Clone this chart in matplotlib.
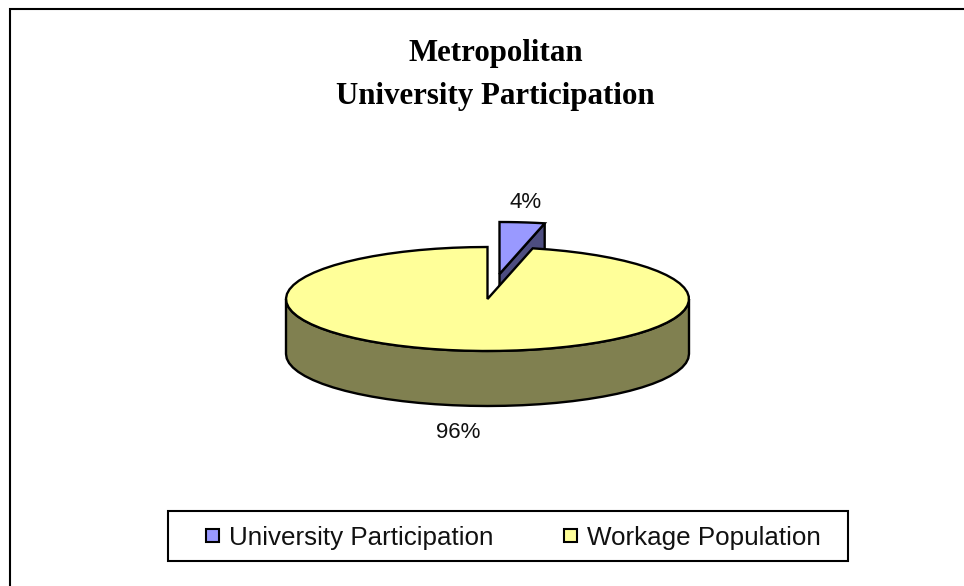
import numpy as np
import matplotlib
matplotlib.use("Agg")
import matplotlib.pyplot as plt
from matplotlib.patches import Polygon, Rectangle

categories = ["University Participation", "Workage Population"]
shares = [3.6, 96.4]
top_colors = ["#9999FF", "#FFFF99"]
side_colors = ["#4D4D80", "#808050"]

# pie geometry in picture pixels
cx, cy = 487.5, 299
rx, ry = 201.5, 52
depth = 55
explode = (12, -25)


def rim(a0, a1, ox=0, oy=0, n=60):
    t = np.radians(np.linspace(a0, a1, n))
    return np.column_stack([ox + rx * np.sin(t), oy - ry * np.cos(t)])


fig = plt.figure(figsize=(9.64, 5.86), dpi=100)
ax = fig.add_axes([0, 0, 1, 1])
ax.set_xlim(0, 964)
ax.set_ylim(586, 0)
ax.axis("off")

# chart frame, only its top and left sides are in the picture
ax.plot([10, 10, 964], [586, 9, 9], color="black", lw=1.5, solid_joinstyle="miter")

angle = shares[0] / sum(shares) * 360

# exploded slice goes first, the big one covers its lower part
sx, sy = cx + explode[0], cy + explode[1]
edge = rim(0, angle, sx, sy, 6)
face = np.array([[sx, sy], edge[-1], edge[-1] + [0, depth], [sx, sy + depth]])
ax.add_patch(Polygon(face, fc=side_colors[0], ec="black", lw=1.7))
ax.add_patch(Polygon(np.vstack([[sx, sy], edge]), fc=top_colors[0], ec="black", lw=1.7))

# big slice, side wall then top
front = rim(90, 270, cx, cy, 37)
wall = np.vstack([front, front[::-1] + [0, depth]])
ax.add_patch(Polygon(wall, fc=side_colors[1], ec="black", lw=1.7))
top = np.vstack([[cx, cy], rim(angle, 360, cx, cy, 71)])
ax.add_patch(Polygon(top, fc=top_colors[1], ec="black", lw=1.7))

sans = "Liberation Sans"
ax.text(525.5, 203, f"{shares[0]:.0f}%", family=sans, fontsize=16, color="#111111", ha="center", va="center")
ax.text(458.5, 432.5, f"{shares[1]:.0f}%", family=sans, fontsize=16, color="#111111", ha="center", va="center")

ax.text(495.5, 53.5, "Metropolitan", family="Liberation Serif", weight="bold", fontsize=22.2,
        ha="center", va="center")
ax.text(495.5, 96.5, "University Participation", family="Liberation Serif", weight="bold", fontsize=22.2,
        ha="center", va="center")

# legend box
ax.add_patch(Rectangle((168, 511), 680, 50, fc="white", ec="black", lw=1.5))
for name, col, kx, tx in zip(categories, top_colors, [206, 564], [229, 587]):
    ax.add_patch(Rectangle((kx, 529), 13, 13, fc=col, ec="black", lw=1.5))
    ax.text(tx, 538, name, family=sans, fontsize=18.7, color="#111111", ha="left", va="center")

fig.savefig("out.png", dpi=100)
